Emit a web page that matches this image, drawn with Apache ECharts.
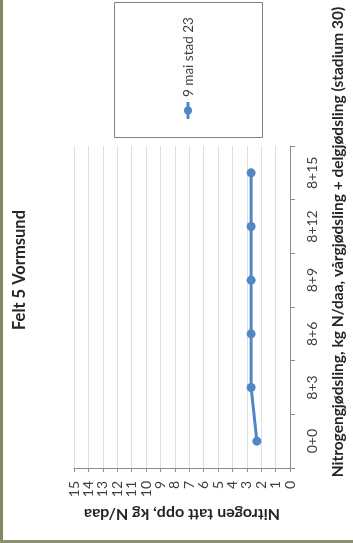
<!DOCTYPE html>
<html>
<head>
<meta charset="utf-8">
<script src="https://cdn.jsdelivr.net/npm/echarts@6/dist/echarts.min.js"></script>
<style>
html,body{margin:0;padding:0;background:#fff;}
#c{width:353px;height:543px;}
</style>
</head>
<body>
<div id="c"></div>
<script>
var categories = ['0+0', '8+3', '8+6', '8+9', '8+12', '8+15'];
var seriesName = '9 mai stad 23';
var values = [2.3, 2.7, 2.7, 2.7, 2.7, 2.7];
var valueTicks = [0, 15, 1];
var chartTitle = 'Felt 5 Vormsund';
var valueAxisTitle = 'Nitrogen tatt opp, kg N/daa';
var categoryAxisTitle = 'Nitrogengjødsling, kg N/daa, vårgjødsling + delgjødsling (stadium 30)';

var lineColor = '#4F87C7';
var font = 'Lato';
var chart = echarts.init(document.getElementById('c'), null, {renderer: 'canvas'});
chart.setOption({
  backgroundColor: '#ffffff',
  animation: false,
  textStyle: {fontFamily: font},
  grid: {left: 74, right: 63, top: 146, bottom: 75, containLabel: false},
  xAxis: {
    type: 'value',
    min: valueTicks[0], max: valueTicks[1], interval: valueTicks[2],
    inverse: true,
    position: 'bottom',
    name: valueAxisTitle,
    nameLocation: 'middle',
    nameGap: 38,
    nameRotate: 180,
    nameTextStyle: {fontFamily: font, fontWeight: 'bold', fontSize: 16, color: '#262626'},
    axisLine: {show: true, onZero: false, lineStyle: {color: '#8c8c8c', width: 1}},
    axisTick: {show: true, length: 4, lineStyle: {color: '#8c8c8c'}},
    axisLabel: {rotate: 90, margin: 13, fontSize: 14, fontFamily: font, color: '#404040'},
    splitLine: {show: true, lineStyle: {color: '#DEDEDE', width: 1}}
  },
  yAxis: {
    type: 'category',
    data: categories,
    position: 'right',
    boundaryGap: true,
    axisLine: {show: true, onZero: false, lineStyle: {color: '#8c8c8c', width: 1}},
    axisTick: {show: true, length: 5, lineStyle: {color: '#8c8c8c'}},
    axisLabel: {rotate: 90, margin: 15, fontSize: 14, fontFamily: font, color: '#404040'},
    splitLine: {show: false}
  },
  series: [{
    name: seriesName,
    type: 'line',
    data: values,
    symbol: 'circle',
    symbolSize: 9,
    lineStyle: {color: lineColor, width: 3},
    itemStyle: {color: lineColor}
  }],
  graphic: [
    {type: 'rect', left: 0, top: 0, shape: {width: 3, height: 543}, style: {fill: '#7d8a5a'}, silent: true},
    {type: 'rect', left: 0, top: 540, shape: {width: 353, height: 3}, style: {fill: '#8a9070'}, silent: true},
    {type: 'text', x: 20, y: 270, rotation: Math.PI / 2,
      style: {text: chartTitle, font: 'bold 16.5px Lato', fill: '#262626', align: 'center', verticalAlign: 'middle'}},
    {type: 'text', x: 338, y: 242, rotation: Math.PI / 2,
      style: {text: categoryAxisTitle, font: 'bold 15.5px Lato', fill: '#262626', align: 'center', verticalAlign: 'middle'}},
    {type: 'rect', shape: {x: 114.5, y: 2.5, width: 148, height: 135},
      style: {fill: '#ffffff', stroke: '#808080', lineWidth: 1}},
    {type: 'line', shape: {x1: 188, y1: 102, x2: 188, y2: 119},
      style: {stroke: lineColor, lineWidth: 3}},
    {type: 'circle', shape: {cx: 188, cy: 110.5, r: 4}, style: {fill: lineColor}},
    {type: 'text', x: 189, y: 97, rotation: Math.PI / 2,
      style: {text: seriesName, font: '13.5px Lato', fill: '#404040', align: 'left', verticalAlign: 'middle'}}
  ]
});
</script>
</body>
</html>
